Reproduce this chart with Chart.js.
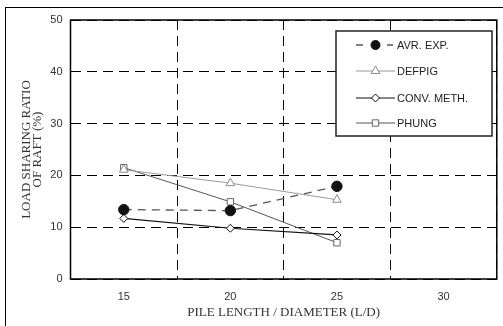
<!DOCTYPE html>
<html>
<head>
<meta charset="utf-8">
<script src="https://cdn.jsdelivr.net/npm/chart.js@4/dist/chart.umd.min.js"></script>
<style>
  html, body { margin: 0; padding: 0; background: #fff; }
  #wrap { position: relative; width: 503px; height: 326px; }
  #frame { position: absolute; left: 5px; top: 7px; width: 520px; height: 340px; border: 1px solid #000; box-sizing: border-box; pointer-events: none; }
  canvas { position: absolute; left: 0; top: 0; }
</style>
</head>
<body>
<div id="wrap">
  <canvas id="c" width="503" height="326"></canvas>
  <div id="frame"></div>
</div>
<script>
// Pile length / diameter ratios (category labels on the x axis)
const ldRatios = ['15', '20', '25', '30'];

// Load sharing ratio of raft (%) for each method
const avrExp   = [13.4, 13.2, 17.9, null];
const defpig   = [21.1, 18.5, 15.3, null];
const convMeth = [11.7, 9.8, 8.5, null];
const phung    = [21.5, 14.9, 7.0, null];

// Y axis ticks
const yTicks = [0, 10, 20, 30, 40, 50];

const seriesNames = ['AVR. EXP.', 'DEFPIG', 'CONV. METH.', 'PHUNG'];

const datasets = [
  {
    label: seriesNames[0], data: avrExp,
    borderColor: '#555', borderWidth: 1.3, borderDash: [8, 6],
    pointStyle: 'circle', pointRadius: 5.2,
    pointBackgroundColor: '#111', pointBorderColor: '#111', pointBorderWidth: 1
  },
  {
    label: seriesNames[1], data: defpig,
    borderColor: '#9a9a9a', borderWidth: 1,
    pointStyle: 'triangle', pointRadius: 5,
    pointBackgroundColor: '#fff', pointBorderColor: '#8a8a8a', pointBorderWidth: 1
  },
  {
    label: seriesNames[2], data: convMeth,
    borderColor: '#111', borderWidth: 1.2,
    pointStyle: 'rectRot', pointRadius: 4,
    pointBackgroundColor: '#fff', pointBorderColor: '#111', pointBorderWidth: 1
  },
  {
    label: seriesNames[3], data: phung,
    borderColor: '#555', borderWidth: 1,
    pointStyle: 'rect', pointRadius: 4.5,
    pointBackgroundColor: '#fff', pointBorderColor: '#666', pointBorderWidth: 1
  }
];

// Frame around the plot area, axis titles, and the boxed legend
const decorations = {
  id: 'decorations',
  afterDatasetsDraw(chart) {
    const ctx = chart.ctx;
    const a = chart.chartArea;
    ctx.save();
    ctx.strokeStyle = '#000';
    ctx.lineWidth = 1.5;
    ctx.setLineDash([]);
    ctx.strokeRect(a.left, a.top, a.right - a.left, a.bottom - a.top);

    // axis titles
    ctx.fillStyle = '#333';
    ctx.font = '13px "Liberation Serif", serif';
    ctx.textAlign = 'center';
    ctx.textBaseline = 'middle';
    ctx.fillText('PILE LENGTH / DIAMETER (L/D)', (a.left + a.right) / 2, 313);
    ctx.save();
    ctx.translate(26.5, (a.top + a.bottom) / 2);
    ctx.rotate(-Math.PI / 2);
    ctx.fillText('LOAD SHARING RATIO', 0, 0);
    ctx.fillText('OF RAFT (%)', 0, 11.5);
    ctx.restore();

    // legend box
    const bx = 336, by = 31, bw = 156, bh = 105;
    ctx.fillStyle = '#fff';
    ctx.fillRect(bx, by, bw, bh);
    ctx.lineWidth = 1.5;
    ctx.strokeStyle = '#222';
    ctx.strokeRect(bx, by, bw, bh);

    const rowY = [45, 71, 98, 123];
    const x0 = 356, x1 = 395, xm = (x0 + x1) / 2;
    chart.data.datasets.forEach((ds, i) => {
      const y = rowY[i];
      ctx.save();
      ctx.strokeStyle = ds.borderColor;
      ctx.lineWidth = ds.borderWidth;
      if (ds.borderDash) {
        ctx.setLineDash([]);
        ctx.beginPath();
        ctx.moveTo(x0, y); ctx.lineTo(x0 + 7, y);
        ctx.moveTo(x1 - 8, y); ctx.lineTo(x1 - 2, y);
        ctx.stroke();
      } else {
        ctx.beginPath();
        ctx.moveTo(x0, y); ctx.lineTo(x1, y);
        ctx.stroke();
      }
      ctx.restore();
      ctx.save();
      ctx.fillStyle = ds.pointBackgroundColor;
      ctx.strokeStyle = ds.pointBorderColor;
      ctx.lineWidth = ds.pointBorderWidth;
      Chart.helpers.drawPoint(ctx, {
        pointStyle: ds.pointStyle,
        radius: ds.pointStyle === 'circle' ? 4.5 : ds.pointRadius,
        borderWidth: ds.pointBorderWidth,
        rotation: 0
      }, xm, y);
      ctx.restore();
      ctx.fillStyle = '#222';
      ctx.font = '11px "Liberation Sans", Arial, sans-serif';
      ctx.textAlign = 'left';
      ctx.textBaseline = 'middle';
      ctx.fillText(ds.label, x1 + 2, y + 0.5);
    });
    ctx.restore();
  }
};

new Chart(document.getElementById('c'), {
  type: 'line',
  data: { labels: ldRatios, datasets },
  options: {
    responsive: false,
    animation: false,
    devicePixelRatio: 1,
    layout: { padding: { left: 0, right: 2, top: 20, bottom: 0 } },
    plugins: { legend: { display: false }, tooltip: { enabled: false } },
    scales: {
      x: {
        type: 'category',
        offset: true,
        grid: {
          offset: true,
          color: '#000',
          lineWidth: 1,
          drawTicks: false
        },
        border: { display: false, dash: [10, 6] },
        ticks: {
          color: '#333',
          font: { family: '"Liberation Sans", Arial, sans-serif', size: 11 },
          padding: 11
        },
        afterFit(scale) { scale.height = 47; }
      },
      y: {
        min: 0, max: 50,
        afterBuildTicks(scale) { scale.ticks = yTicks.map(v => ({ value: v })); },
        grid: { color: '#000', lineWidth: 1, drawTicks: false },
        border: { display: false, dash: [10, 6] },
        ticks: {
          color: '#333',
          font: { family: '"Liberation Sans", Arial, sans-serif', size: 11 },
          padding: 8
        },
        afterFit(scale) { scale.width = 70.5; }
      }
    }
  },
  plugins: [decorations]
});
</script>
</body>
</html>
